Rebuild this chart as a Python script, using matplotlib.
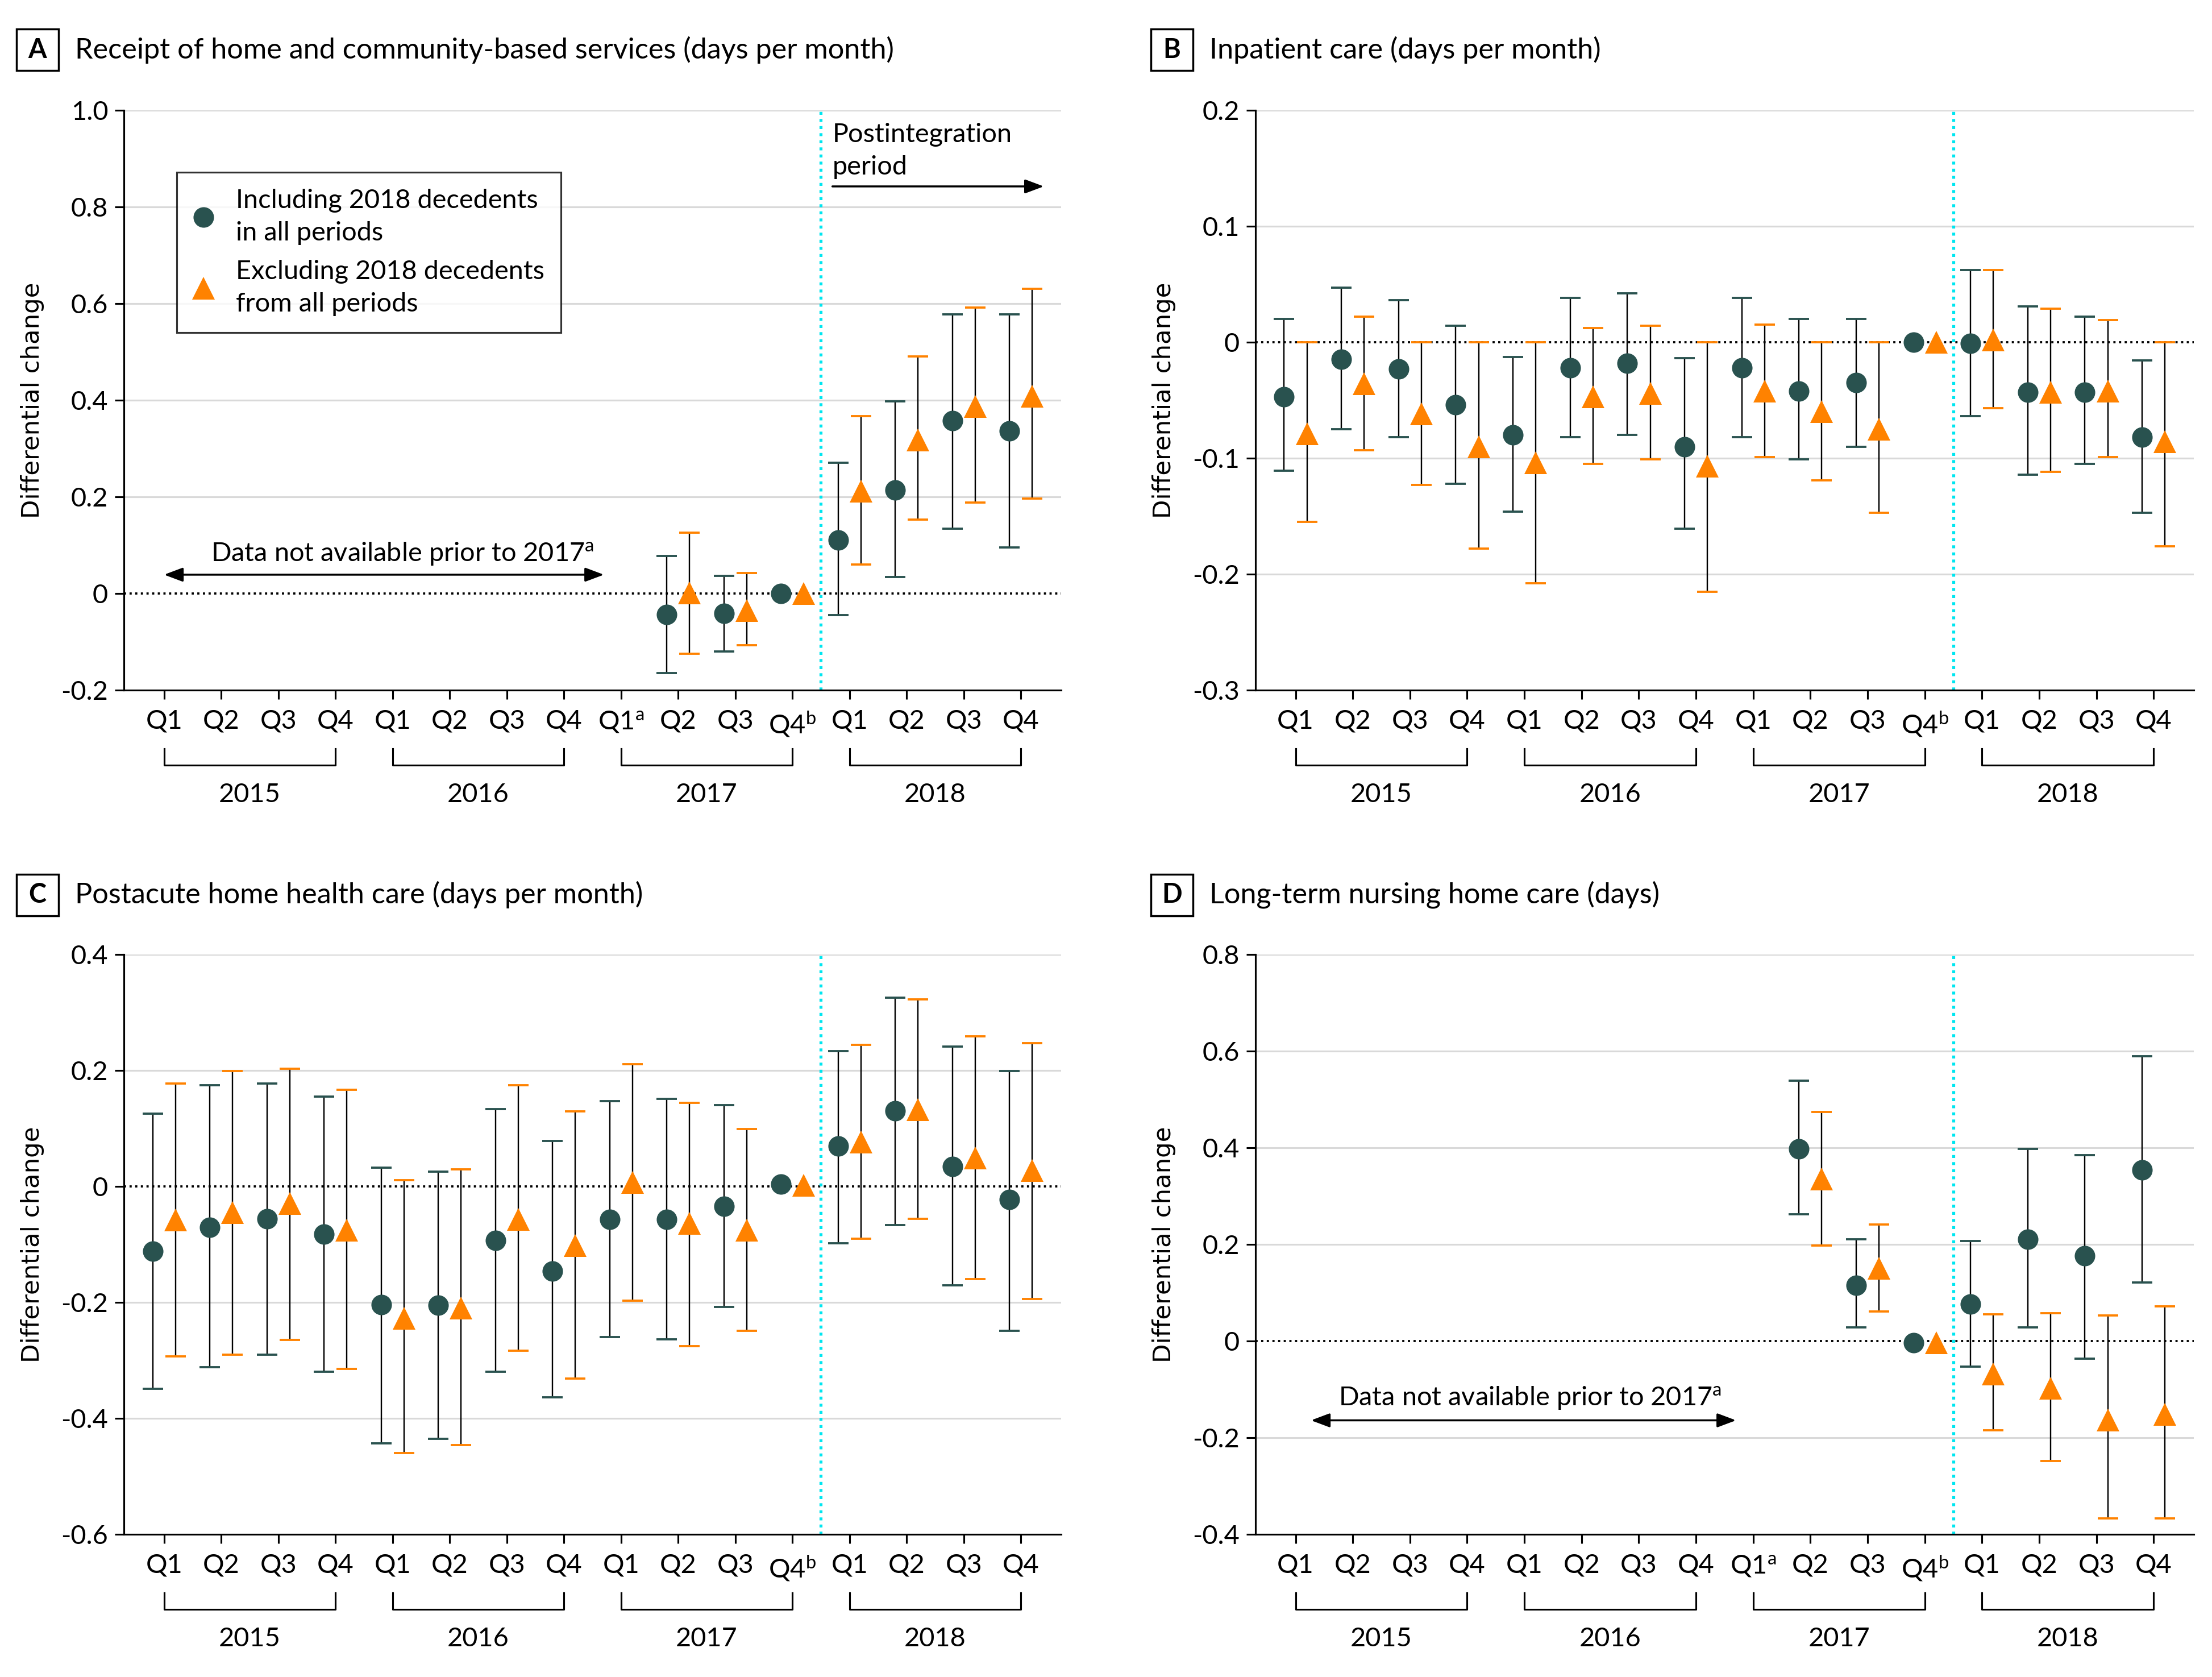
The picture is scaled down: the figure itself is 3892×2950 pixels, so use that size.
import numpy as np
import matplotlib.pyplot as plt
from matplotlib.lines import Line2D
from matplotlib.patches import Rectangle
from matplotlib.transforms import blended_transform_factory

plt.rcParams['font.family'] = ['Lato', 'DejaVu Sans']
plt.rcParams['mathtext.fontset'] = 'custom'
plt.rcParams['mathtext.rm'] = 'Lato'
plt.rcParams['mathtext.it'] = 'Lato:italic'

nan = np.nan
TEAL = '#29524f'
ORANGE = '#ff8200'
CYAN = '#00e6f0'

years = ['2015', '2016', '2017', '2018']
quarters = ['Q1', 'Q2', 'Q3', 'Q4']

# A: home and community-based services
a_inc_est = [nan] * 9 + [-0.043, -0.041, 0.0, 0.111, 0.214, 0.358, 0.336]
a_inc_lo = [nan] * 9 + [-0.164, -0.120, nan, -0.045, 0.034, 0.134, 0.095]
a_inc_hi = [nan] * 9 + [0.078, 0.037, nan, 0.270, 0.397, 0.577, 0.577]
a_exc_est = [nan] * 9 + [0.001, -0.035, 0.0, 0.212, 0.317, 0.387, 0.408]
a_exc_lo = [nan] * 9 + [-0.125, -0.107, nan, 0.060, 0.153, 0.188, 0.196]
a_exc_hi = [nan] * 9 + [0.126, 0.042, nan, 0.367, 0.490, 0.591, 0.630]

# B: inpatient care
b_inc_est = [-0.047, -0.015, -0.023, -0.054, -0.080, -0.022, -0.018, -0.090,
             -0.022, -0.042, -0.035, 0.0, -0.001, -0.043, -0.043, -0.082]
b_inc_lo = [-0.111, -0.075, -0.082, -0.122, -0.146, -0.082, -0.080, -0.161,
            -0.082, -0.101, -0.090, nan, -0.064, -0.114, -0.105, -0.147]
b_inc_hi = [0.020, 0.047, 0.036, 0.014, -0.013, 0.038, 0.042, -0.014,
            0.038, 0.020, 0.020, nan, 0.062, 0.031, 0.022, -0.016]
b_exc_est = [-0.079, -0.036, -0.062, -0.090, -0.104, -0.047, -0.044, -0.107,
             -0.042, -0.060, -0.075, 0.0, 0.002, -0.043, -0.042, -0.086]
b_exc_lo = [-0.155, -0.093, -0.123, -0.178, -0.208, -0.105, -0.101, -0.215,
            -0.099, -0.119, -0.147, nan, -0.057, -0.112, -0.099, -0.176]
b_exc_hi = [0.0, 0.022, 0.0, 0.0, 0.0, 0.012, 0.014, 0.0,
            0.015, 0.0, 0.0, nan, 0.062, 0.029, 0.019, 0.0]

# C: postacute home health care
c_inc_est = [-0.112, -0.071, -0.056, -0.082, -0.204, -0.205, -0.093, -0.146,
             -0.057, -0.057, -0.034, 0.004, 0.069, 0.130, 0.034, -0.023]
c_inc_lo = [-0.349, -0.312, -0.290, -0.320, -0.443, -0.435, -0.320, -0.364,
            -0.260, -0.264, -0.208, nan, -0.098, -0.067, -0.171, -0.249]
c_inc_hi = [0.125, 0.174, 0.177, 0.155, 0.032, 0.025, 0.133, 0.078,
            0.147, 0.151, 0.140, nan, 0.233, 0.325, 0.241, 0.199]
c_exc_est = [-0.058, -0.045, -0.030, -0.076, -0.227, -0.210, -0.057, -0.102,
             0.007, -0.064, -0.076, 0.002, 0.076, 0.132, 0.049, 0.027]
c_exc_lo = [-0.293, -0.290, -0.265, -0.315, -0.460, -0.446, -0.283, -0.331,
            -0.197, -0.275, -0.249, nan, -0.090, -0.056, -0.160, -0.194]
c_exc_hi = [0.177, 0.199, 0.203, 0.166, 0.011, 0.029, 0.174, 0.129,
            0.210, 0.144, 0.099, nan, 0.244, 0.322, 0.258, 0.247]

# D: long-term nursing home care
d_inc_est = [nan] * 9 + [0.397, 0.115, -0.003, 0.077, 0.210, 0.176, 0.354]
d_inc_lo = [nan] * 9 + [0.262, 0.028, nan, -0.053, 0.028, -0.036, 0.121]
d_inc_hi = [nan] * 9 + [0.538, 0.211, nan, 0.207, 0.397, 0.384, 0.589]
d_exc_est = [nan] * 9 + [0.335, 0.150, -0.003, -0.068, -0.098, -0.163, -0.152]
d_exc_lo = [nan] * 9 + [0.197, 0.061, nan, -0.185, -0.248, -0.367, -0.367]
d_exc_hi = [nan] * 9 + [0.474, 0.241, nan, 0.055, 0.058, 0.053, 0.072]

titles = ['Receipt of home and community-based services (days per month)',
          'Inpatient care (days per month)',
          'Postacute home health care (days per month)',
          'Long-term nursing home care (days)']
letters = ['A', 'B', 'C', 'D']
yticks_all = [[-0.2, 0, 0.2, 0.4, 0.6, 0.8, 1.0],
              [-0.3, -0.2, -0.1, 0, 0.1, 0.2],
              [-0.6, -0.4, -0.2, 0, 0.2, 0.4],
              [-0.4, -0.2, 0, 0.2, 0.4, 0.6, 0.8]]
missing_2015_2016 = [True, False, False, True]

FS = 13.5


def fmt(v):
    return '0' if v == 0 else f'{v:.1f}'


def draw_series(ax, x, est, lo, hi, color, marker, ms):
    est, lo, hi = np.asarray(est), np.asarray(lo), np.asarray(hi)
    m = ~np.isnan(lo)
    eb = ax.errorbar(x[m], est[m], yerr=[est[m] - lo[m], hi[m] - est[m]], fmt='none',
                     ecolor='black', elinewidth=0.7, capsize=5.2, capthick=1.1, zorder=3)
    for cap in eb[1]:
        cap.set_color(color)
        cap.set_markeredgecolor(color)
    ax.plot(x, est, ls='none', marker=marker, color=color, ms=ms, mew=0, zorder=4)


fig = plt.figure(figsize=(15.568, 11.8), dpi=250)
positions = [[0.0561, 0.5884, 0.4235, 0.346], [0.5676, 0.5884, 0.4241, 0.346],
             [0.0561, 0.0850, 0.4235, 0.346], [0.5676, 0.0850, 0.4241, 0.346]]
series = [(a_inc_est, a_inc_lo, a_inc_hi, a_exc_est, a_exc_lo, a_exc_hi),
          (b_inc_est, b_inc_lo, b_inc_hi, b_exc_est, b_exc_lo, b_exc_hi),
          (c_inc_est, c_inc_lo, c_inc_hi, c_exc_est, c_exc_lo, c_exc_hi),
          (d_inc_est, d_inc_lo, d_inc_hi, d_exc_est, d_exc_lo, d_exc_hi)]
x = np.arange(16)

for i, ax_pos in enumerate(positions):
    ax = fig.add_axes(ax_pos)
    ie, il, ih, ee, el, eh = series[i]
    yt = yticks_all[i]

    for v in yt:
        if v != 0:
            ax.axhline(v, color='#d9d9d9', lw=0.9, zorder=0)
    ax.axhline(0, color='black', lw=1.1, ls=(0, (1, 1.6)), zorder=1)
    ax.axvline(11.5, color=CYAN, lw=1.5, ls=(0, (1, 1.4)), zorder=1)

    draw_series(ax, x - 0.2, ie, il, ih, TEAL, 'o', 10.4)
    draw_series(ax, x + 0.2, ee, el, eh, ORANGE, '^', 11.5)

    ax.set_xlim(-0.7, 15.7)
    ax.set_ylim(yt[0], yt[-1])
    ax.set_yticks(yt)
    ax.set_yticklabels([fmt(v) for v in yt], fontsize=FS)
    labels = quarters * 4
    if missing_2015_2016[i]:
        labels[8] = r'Q1$^{\mathrm{a}}$'
    labels[11] = r'Q4$^{\mathrm{b}}$'
    ax.set_xticks(x)
    ax.set_xticklabels(labels, fontsize=FS)
    ax.tick_params(axis='both', direction='out', length=4.6, width=0.9, color='black')
    ax.tick_params(axis='x', pad=5)
    ax.tick_params(axis='y', pad=3.5)
    for s in ['top', 'right']:
        ax.spines[s].set_visible(False)
    ax.spines['left'].set_linewidth(0.9)
    ax.spines['bottom'].set_linewidth(0.9)
    ax.set_ylabel('Differential change', family='DejaVu Sans', fontsize=12.5)
    ax.yaxis.set_label_coords(-0.085, 0.5)

    # year brackets
    tr = blended_transform_factory(ax.transData, ax.transAxes)
    for k, yr in enumerate(years):
        x0, x1 = 4 * k, 4 * k + 3
        ax.plot([x0, x0, x1, x1], [-0.101, -0.129, -0.129, -0.101], color='black',
                lw=0.9, transform=tr, clip_on=False)
        ax.text((x0 + x1) / 2, -0.180, yr, transform=tr, ha='center', va='center',
                fontsize=FS)

    # panel title
    dx = 0.5128 if i in (1, 3) else 0.0
    ty = 0.9702 if i < 2 else 0.4664
    fig.add_artist(Rectangle((0.00745 + dx, ty - 0.0124), 0.0190, 0.0248,
                             transform=fig.transFigure, fill=False, lw=1.0, ec='black'))
    fig.text(0.01696 + dx, ty, letters[i], ha='center', va='center',
             fontsize=FS, fontweight='bold')
    fig.text(0.0339 + dx, ty, titles[i], ha='left', va='center', fontsize=14.5)

    if missing_2015_2016[i]:
        if i == 0:
            tx, ty_txt, ay, ax0 = 4.17, 0.083, 0.039, 0.0
        else:
            tx, ty_txt, ay, ax0 = 4.1, -0.117, -0.164, 0.27
        ax.text(tx, ty_txt, r'Data not available prior to 2017$^{\mathrm{a}}$',
                ha='center', va='center', fontsize=FS)
        ax.annotate('', xy=(ax0, ay), xytext=(7.7, ay),
                    arrowprops=dict(arrowstyle='<|-|>,head_length=0.4,head_width=0.15',
                                    color='black', lw=1.0, mutation_scale=20,
                                    shrinkA=0, shrinkB=0))

    if i == 0:
        ax.text(11.7, 0.915, 'Postintegration\nperiod', ha='left', va='center',
                fontsize=FS, linespacing=1.45)
        ax.annotate('', xy=(15.4, 0.842), xytext=(11.7, 0.842),
                    arrowprops=dict(arrowstyle='-|>,head_length=0.4,head_width=0.15',
                                    color='black', lw=1.0, mutation_scale=20,
                                    shrinkA=0, shrinkB=0))
        handles = [Line2D([], [], ls='none', marker='o', color=TEAL, ms=10.4, mew=0),
                   Line2D([], [], ls='none', marker='^', color=ORANGE, ms=11.5, mew=0)]
        leg = ax.legend(handles, ['Including 2018 decedents\nin all periods',
                                  'Excluding 2018 decedents\nfrom all periods'],
                        loc='upper left', bbox_to_anchor=(0.056, 0.893), fontsize=FS,
                        frameon=True, fancybox=False, edgecolor='black',
                        borderpad=0.62, labelspacing=0.55, handletextpad=0.8,
                        handlelength=0.8, borderaxespad=0)
        leg.get_frame().set_linewidth(0.9)
        for t in leg.get_texts():
            t.set_linespacing(1.45)
        for h in leg.legend_handles:
            h.set_markersize(10.4 if h.get_marker() == 'o' else 11.5)

fig.savefig('out.png', dpi=250, facecolor='white')
